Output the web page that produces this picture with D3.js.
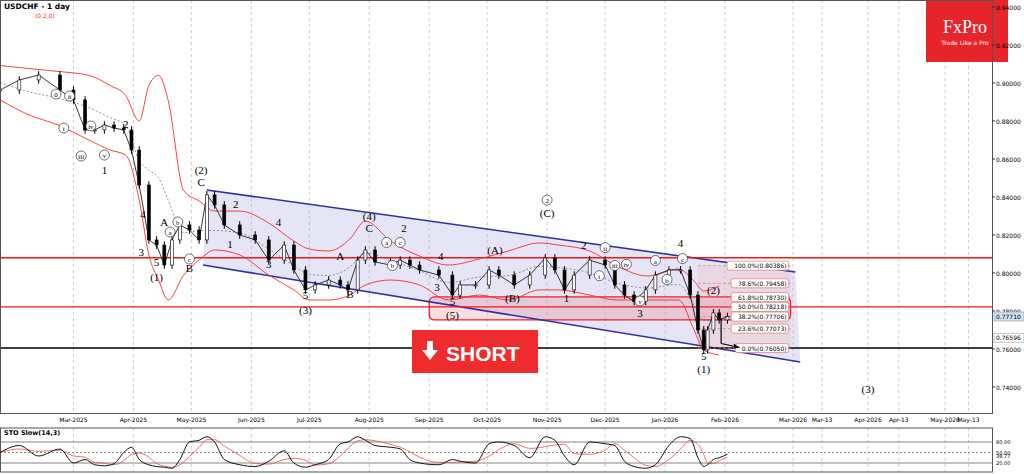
<!DOCTYPE html>
<html><head><meta charset="utf-8">
<script src="https://cdn.jsdelivr.net/npm/d3@7"></script>
<style>body{margin:0;background:#fff}svg{display:block;font-family:"DejaVu Sans",sans-serif}</style>
</head><body><div id="grafico"></div>
<script>
// ---- data ----
const dates = ["2025-01-22","2025-02-01","2025-02-11","2025-02-22","2025-03-01","2025-03-07","2025-03-12","2025-03-17","2025-03-22","2025-03-27","2025-03-31","2025-04-04","2025-04-09","2025-04-13","2025-04-17","2025-04-21","2025-04-25","2025-04-30","2025-05-05","2025-05-09","2025-05-13","2025-05-18","2025-05-26","2025-06-03","2025-06-10","2025-06-18","2025-06-23","2025-06-29","2025-07-04","2025-07-11","2025-07-17","2025-07-21","2025-07-26","2025-07-30","2025-08-04","2025-08-12","2025-08-17","2025-08-22","2025-08-27","2025-09-06","2025-09-13","2025-09-17","2025-09-25","2025-10-02","2025-10-07","2025-10-15","2025-10-23","2025-10-31","2025-11-05","2025-11-10","2025-11-15","2025-11-23","2025-12-01","2025-12-06","2025-12-11","2025-12-16","2025-12-22","2025-12-27","2026-01-03","2026-01-09","2026-01-14","2026-01-18","2026-01-21","2026-01-23","2026-01-26","2026-01-29","2026-02-02"];
const closes = [.8963,.9016,.9042,.8963,.8911,.8753,.8753,.8779,.8763,.8753,.8647,.8463,.8174,.8147,.8042,.8174,.8253,.8226,.8174,.8411,.8358,.8253,.8200,.8174,.8068,.8147,.8016,.7911,.7937,.7963,.7937,.7911,.8068,.8121,.8058,.8042,.8068,.8042,.8016,.7989,.7884,.7937,.7937,.8016,.7989,.7937,.7989,.8079,.8016,.7911,.7989,.8068,.8042,.7937,.7884,.7850,.7911,.7989,.8016,.8016,.7884,.7700,.7595,.7700,.7790,.7753,.7771];
const stoK = [50,70,40,60,20,30,15,12,18,50,65,30,15,10,8,5,30,80,85,95,80,30,15,10,25,55,20,8,15,30,75,80,95,85,70,65,60,30,20,15,30,25,20,75,80,70,35,95,85,40,15,80,75,70,25,10,5,15,70,95,90,35,10,15,30,35,45];
const bandDates = ["2025-01-22","2025-02-06","2025-02-21","2025-03-09","2025-03-20","2025-03-28","2025-04-04","2025-04-09","2025-04-14","2025-04-19","2025-04-27","2025-05-05","2025-05-13","2025-05-26","2025-06-10","2025-06-23","2025-07-01","2025-07-11","2025-07-22","2025-07-30","2025-08-12","2025-08-27","2025-09-11","2025-09-27","2025-10-12","2025-10-28","2025-11-07","2025-11-23","2025-12-07","2025-12-23","2026-01-08","2026-01-16","2026-01-21","2026-01-29"];
const bandUpper = [.9092,.9076,.9061,.9040,.8987,.8934,.8800,.8987,.9040,.8908,.8434,.8379,.8326,.8326,.8263,.8168,.8126,.8116,.8179,.8274,.8168,.8089,.8042,.8074,.8116,.8158,.8147,.8116,.8037,.7984,.8021,.7958,.7905,.7932];
const bandLower = [.8911,.8832,.8779,.8700,.8647,.8621,.8384,.8095,.7963,.7858,.7989,.8068,.8121,.8095,.7989,.7911,.7858,.7858,.7884,.7937,.7963,.7937,.7858,.7884,.7858,.7911,.7911,.7884,.7858,.7858,.7858,.7700,.7595,.7568];
const priceTicks = [.94,.92,.90,.88,.86,.84,.82,.80,.78,.76,.74];
const dateTicks = [["2025-03-01","Mar-2025"],["2025-04-01","Apr-2025"],["2025-05-01","May-2025"],["2025-06-01","Jun-2025"],["2025-07-01","Jul-2025"],["2025-08-01","Aug-2025"],["2025-09-01","Sep-2025"],["2025-10-01","Oct-2025"],["2025-11-01","Nov-2025"],["2025-12-01","Dec-2025"],["2026-01-01","Jan-2026"],["2026-02-01","Feb-2026"],["2026-03-01","Mar-2026"],["2026-03-13","Mar-13"],["2026-04-01","Apr-2026"],["2026-04-13","Apr-13"],["2026-05-01","May-2026"],["2026-05-13","May-13"]];
const fibLevels = [["100.0%",.80386],["78.6%",.79458],["61.8%",.78730],["50.0%",.78218],["38.2%",.77706],["23.6%",.77073],["0.0%",.76050]];
const hLinesRed = [.8080,.78218];
const supportLine = .76050;
const channelUp = [["2025-05-09",.8437],["2026-03-02",.8005]];
const channelDn = [["2025-05-07",.8042],["2026-03-04",.7532]];
const zone = [["2025-09-01",.7874],["2026-02-28",.7753]];
// wave labels: date, price, text, circled
const waves = [
 ["2025-02-20",.8926,"0",1],["2025-02-27",.8916,"ii",1],["2025-02-24",.8747,"i",1],["2025-03-10",.8758,"iv",1],["2025-03-05",.8600,"iii",1],["2025-03-17",.8605,"v",1],["2025-03-17",.8526,"1",0],["2025-03-28",.8768,"2",0],
 ["2025-04-06",.8295,"4",0],["2025-04-05",.8095,"3",0],["2025-04-13",.8042,"5",0],["2025-04-13",.7963,"(1)",0],
 ["2025-04-17",.8253,"A",0],["2025-04-24",.8253,"b",1],["2025-04-20",.8200,"a",1],["2025-04-30",.8058,"c",1],["2025-04-30",.8011,"B",0],
 ["2025-05-06",.8526,"(2)",0],["2025-05-06",.8463,"C",0],["2025-05-24",.8347,"2",0],["2025-05-21",.8137,"1",0],["2025-06-15",.8253,"4",0],["2025-06-10",.8032,"3",0],["2025-06-29",.7870,"5",0],["2025-06-29",.7790,"(3)",0],
 ["2025-07-17",.8074,"A",0],["2025-07-22",.7874,"B",0],["2025-08-01",.8284,"(4)",0],["2025-08-01",.8221,"C",0],["2025-08-19",.8221,"2",0],["2025-08-10",.8145,"a",1],["2025-08-13",.8024,"b",1],["2025-08-17",.8145,"c",1],
 ["2025-09-07",.8074,"4",0],["2025-09-05",.7911,"3",0],["2025-09-13",.7837,"5",0],["2025-09-13",.7763,"(5)",0],["2025-10-05",.8105,"(A)",0],["2025-10-14",.7853,"(B)",0],
 ["2025-11-01",.8368,"2",1],["2025-11-01",.8300,"(C)",0],["2025-11-11",.7853,"1",0],["2025-11-20",.8130,"2",0],["2025-12-01",.8118,"ii",1],["2025-11-28",.7970,"i",1],["2025-12-06",.8024,"iii",1],["2025-12-12",.8030,"iv",1],["2025-12-19",.7837,"v",1],["2025-12-19",.7774,"3",0],
 ["2025-12-27",.8050,"a",1],["2026-01-02",.7950,"b",1],["2026-01-09",.8140,"4",0],["2026-01-10",.8060,"c",1],["2026-01-21",.7550,"5",0],["2026-01-21",.7480,"(1)",0],["2026-01-26",.7895,"(2)",0],["2026-04-01",.7375,"(3)",0]
];

// ---- layout ----
const W = 1024, H = 474;
const plotR = 992, mainB = 413, stoT = 428, stoB = 472;
const parse = d3.timeParse("%Y-%m-%d");
const x = d3.scaleTime()
  .domain(["2025-01-22","2026-02-01","2026-03-01","2026-04-01","2026-05-01","2026-05-25"].map(parse))
  .range([0,725,793,868,945,992]);
const y = d3.scaleLinear().domain([.74,.94]).range([387,7]);
const ys = d3.scaleLinear().domain([0,100]).range([470,435]);

const svg = d3.select("#grafico").append("svg").attr("width",W).attr("height",H);
svg.append("defs").append("clipPath").attr("id","clip").append("rect").attr("width",plotR).attr("height",mainB);

// grid
dateTicks.forEach(([d]) => {
  svg.append("line").attr("x1",x(parse(d))).attr("x2",x(parse(d))).attr("y1",0).attr("y2",mainB)
    .attr("stroke","#aaa").attr("stroke-dasharray","3,3").attr("stroke-width",0.6);
  svg.append("line").attr("x1",x(parse(d))).attr("x2",x(parse(d))).attr("y1",stoT).attr("y2",stoB)
    .attr("stroke","#aaa").attr("stroke-dasharray","3,3").attr("stroke-width",0.6);
});

const g = svg.append("g").attr("clip-path","url(#clip)");

// channel fill
const cu = channelUp.map(([d,p]) => [x(parse(d)),y(p)]);
const cd = channelDn.map(([d,p]) => [x(parse(d)),y(p)]);
g.append("path").attr("d",d3.line()([cu[0],cu[1],cd[1],cd[0]])+"Z").attr("fill","rgba(170,170,225,0.3)");

// fib box
const fx0 = x(parse("2026-01-18")), fx1 = x(parse("2026-02-28"));
g.append("rect").attr("x",fx0).attr("y",y(fibLevels[0][1])).attr("width",fx1-fx0)
  .attr("height",y(fibLevels[6][1])-y(fibLevels[0][1])).attr("fill","rgba(240,190,195,0.35)");

// zone
const zx0 = x(parse(zone[0][0])), zx1 = x(parse(zone[1][0]));
g.append("rect").attr("x",zx0).attr("y",y(zone[0][1])).attr("width",zx1-zx0).attr("height",y(zone[1][1])-y(zone[0][1]))
  .attr("rx",5).attr("fill","rgba(235,120,130,0.25)").attr("stroke","#e8202a").attr("stroke-width",1.3);

// channel lines
[cu,cd].forEach(l => g.append("line").attr("x1",l[0][0]).attr("y1",l[0][1]).attr("x2",l[1][0]).attr("y2",l[1][1])
  .attr("stroke","#3030a0").attr("stroke-width",1.6));

// horizontal lines
hLinesRed.forEach(p => g.append("line").attr("x1",0).attr("x2",plotR).attr("y1",y(p)).attr("y2",y(p)).attr("stroke","#f01818").attr("stroke-width",1.4));
g.append("line").attr("x1",0).attr("x2",plotR).attr("y1",y(supportLine)).attr("y2",y(supportLine)).attr("stroke","#000").attr("stroke-width",1.4);

// fib levels
fibLevels.forEach(([lab,p]) => {
  g.append("line").attr("x1",fx0).attr("x2",fx1).attr("y1",y(p)).attr("y2",y(p)).attr("stroke","#d88").attr("stroke-dasharray","3,2").attr("stroke-width",0.8);
  const t = `${lab}(${p.toFixed(5)})`;
  const tw = t.length*4.1;
  g.append("rect").attr("x",fx1-tw-2).attr("y",y(p)-4.5).attr("width",tw).attr("height",9).attr("rx",2).attr("fill","#fff").attr("stroke","#d77").attr("stroke-width",0.7);
  g.append("text").attr("x",fx1-4).attr("y",y(p)+2.5).attr("text-anchor","end").attr("font-size",6).text(t);
});

// bands
const bd = bandDates.map(parse);
const lineB = arr => d3.line().curve(d3.curveMonotoneX).x((d,i)=>x(bd[i])).y(d=>y(d))(arr);
g.append("path").attr("d",lineB(bandUpper)).attr("fill","none").attr("stroke","#f03030").attr("stroke-width",0.9);
g.append("path").attr("d",lineB(bandLower)).attr("fill","none").attr("stroke","#f03030").attr("stroke-width",0.9);
g.append("path").attr("d",lineB(bandUpper.map((u,i)=>(u+bandLower[i])/2))).attr("fill","none").attr("stroke","#777").attr("stroke-dasharray","2,2").attr("stroke-width",0.8);

// price
const dd = dates.map(parse);
g.append("path").attr("d",d3.line().x((d,i)=>x(dd[i])).y(d=>y(d))(closes)).attr("fill","none").attr("stroke","#222").attr("stroke-width",0.9);
closes.forEach((c,i) => {
  const o = i ? closes[i-1] : c;
  const hi = Math.max(o,c)+0.002, lo = Math.min(o,c)-0.002;
  const xx = x(dd[i]);
  g.append("line").attr("x1",xx).attr("x2",xx).attr("y1",y(hi)).attr("y2",y(lo)).attr("stroke","#000");
  g.append("rect").attr("x",xx-1.5).attr("width",3).attr("y",y(Math.max(o,c))).attr("height",Math.max(1,Math.abs(y(o)-y(c))))
    .attr("fill",c>=o?"#fff":"#000").attr("stroke","#000").attr("stroke-width",0.6);
});

// arrow
const ax0 = x(parse("2026-01-30")), ay0 = y(.7760), ax1 = x(parse("2026-02-07")), ay1 = y(.7608);
g.append("line").attr("x1",ax0).attr("y1",ay0).attr("x2",ax0).attr("y2",ay1-4).attr("stroke","#000").attr("stroke-width",1.2);
g.append("line").attr("x1",ax0).attr("y1",ay1-4).attr("x2",ax1).attr("y2",ay1).attr("stroke","#000").attr("stroke-width",1.2);
g.append("path").attr("d",`M${ax1},${ay1}l-6,-4l1,5z`).attr("fill","#000");

// wave labels
waves.forEach(([d,p,t,c]) => {
  const xx = x(parse(d)), yy = y(p);
  if (c) g.append("circle").attr("cx",xx).attr("cy",yy-3).attr("r",5).attr("fill","#fff").attr("stroke","#333").attr("stroke-width",0.7);
  g.append("text").attr("x",xx).attr("y",yy+(c?0:1)).attr("text-anchor","middle")
    .attr("font-family","Liberation Serif, serif").attr("font-size",c?7:11).text(t);
});

// SHORT button
svg.append("rect").attr("x",412).attr("y",330).attr("width",126).attr("height",43).attr("fill","#ef2b2d");
svg.append("path").attr("d","M427,341h6v9h5l-8,10l-8,-10h5z").attr("fill","#fff");
svg.append("text").attr("x",446).attr("y",361).attr("fill","#fff").attr("font-size",21).attr("font-weight","bold").attr("font-family","Liberation Sans, Arial").text("SHORT");

// logo
svg.append("rect").attr("x",926).attr("y",0).attr("width",82).attr("height",62).attr("fill","#e8242b");
svg.append("text").attr("x",965).attr("y",33).attr("text-anchor","middle").attr("fill","#fff").attr("font-size",18).attr("font-family","Liberation Serif, serif").text("FxPro");
svg.append("text").attr("x",965).attr("y",45).attr("text-anchor","middle").attr("fill","#fff").attr("font-size",6).text("Trade Like a Pro");

// titles
svg.append("text").attr("x",4).attr("y",9).attr("font-size",7.5).attr("font-weight","bold").text("USDCHF - 1 day");
svg.append("text").attr("x",35).attr("y",18).attr("font-size",6).attr("fill","#e03030").text("(0,2,0)");

// frames
svg.append("rect").attr("x",0.5).attr("y",0.5).attr("width",plotR).attr("height",mainB).attr("fill","none").attr("stroke","#555");
svg.append("rect").attr("x",0.5).attr("y",stoT).attr("width",plotR).attr("height",stoB-stoT).attr("fill","none").attr("stroke","#555");

// price axis
priceTicks.forEach(p => {
  svg.append("line").attr("x1",plotR).attr("x2",plotR+3).attr("y1",y(p)).attr("y2",y(p)).attr("stroke","#333");
  svg.append("text").attr("x",plotR+4).attr("y",y(p)+2.5).attr("font-size",6).text(p.toFixed(5));
});
[[.77710,"#cde3f3"],[.76596,"#fff"]].forEach(([p,f]) => {
  svg.append("rect").attr("x",plotR+2).attr("y",y(p)-4.5).attr("width",30).attr("height",9).attr("fill",f).attr("stroke","#888").attr("stroke-width",0.5);
  svg.append("text").attr("x",plotR+4).attr("y",y(p)+2.5).attr("font-size",6).text(p.toFixed(5));
});

// date axis
dateTicks.forEach(([d,l]) => svg.append("text").attr("x",x(parse(d))).attr("y",422).attr("text-anchor","middle").attr("font-size",6).text(l));

// stochastic
[80,50,20].forEach(v => svg.append("line").attr("x1",0).attr("x2",plotR).attr("y1",ys(v)).attr("y2",ys(v))
  .attr("stroke","#666").attr("stroke-dasharray",v===50?"2,2":null).attr("stroke-width",0.8));
const stoD = stoK.map((v,i) => d3.mean(stoK.slice(Math.max(0,i-2),i+1)));
const ls = d3.line().curve(d3.curveMonotoneX).x((d,i)=>x(dd[i])).y(d=>ys(d));
svg.append("path").attr("d",ls(stoD)).attr("fill","none").attr("stroke","#e05050").attr("stroke-width",0.8);
svg.append("path").attr("d",ls(stoK)).attr("fill","none").attr("stroke","#111").attr("stroke-width",1);
svg.append("text").attr("x",4).attr("y",435).attr("font-size",6.5).attr("font-weight","bold").text("STO Slow(14,3)");
[[80,"80.00"],[50,"50.00"],[38.77,"38.77"],[20,"20.00"]].forEach(([v,t]) =>
  svg.append("text").attr("x",plotR+4).attr("y",ys(v)+2).attr("font-size",5).text(t));
</script></body></html>
